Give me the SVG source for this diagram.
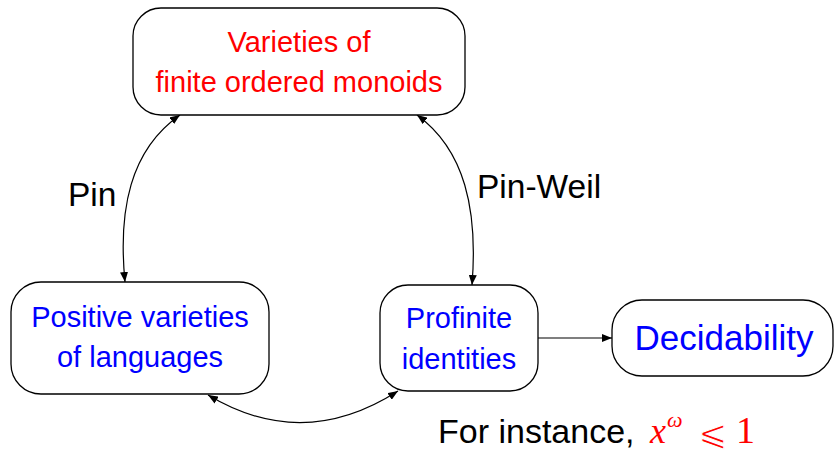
<svg xmlns="http://www.w3.org/2000/svg" width="834" height="450" viewBox="0 0 834 450">
<defs>
<marker id="arr" viewBox="0 0 10 8" refX="10" refY="4" markerWidth="10" markerHeight="8" markerUnits="userSpaceOnUse" orient="auto-start-reverse">
<path d="M0,0 L10,4 L0,8 Z" fill="#000"/>
</marker>
<style>
.box{fill:#fff;stroke:#000;stroke-width:1.3}
.t{font-family:"Liberation Sans",Arial,sans-serif;text-anchor:middle}
.red{fill:#ff0000}
.blue{fill:#0000ff}
.edge{fill:none;stroke:#000;stroke-width:1.2}
.lbl{font-family:"Liberation Sans",Arial,sans-serif;font-size:33.5px;fill:#000}
</style>
</defs>
<rect width="834" height="450" fill="#fff"/>
<g id="connectors">
<path class="edge" d="M180,115 C130,150 118,210 125,282" marker-start="url(#arr)" marker-end="url(#arr)"/>
<path class="edge" d="M417,115 C465,150 478,210 472,285" marker-start="url(#arr)" marker-end="url(#arr)"/>
<path class="edge" d="M208,395 Q303,452 398,391" marker-start="url(#arr)" marker-end="url(#arr)"/>
<path class="edge" d="M538,338 L612,338" marker-end="url(#arr)"/>
<text class="lbl" x="68" y="206">Pin</text>
<text class="lbl" x="477" y="198">Pin-Weil</text>
</g>
<g id="monoids">
<rect class="box" x="133" y="8" width="332" height="107" rx="28"/>
<text class="t red" x="299" y="52" font-size="29">Varieties of</text>
<text class="t red" x="299" y="92" font-size="29">finite ordered monoids</text>
</g>
<g id="languages">
<rect class="box" x="11" y="282" width="258" height="112" rx="30"/>
<text class="t blue" x="140" y="327" font-size="29">Positive varieties</text>
<text class="t blue" x="140" y="367" font-size="29">of languages</text>
</g>
<g id="identities">
<rect class="box" x="380" y="285" width="158" height="106" rx="28"/>
<text class="t blue" x="459" y="328" font-size="29">Profinite</text>
<text class="t blue" x="459" y="369" font-size="29">identities</text>
</g>
<g id="decidability">
<rect class="box" x="612" y="300" width="221" height="76" rx="30"/>
<text class="t blue" x="724" y="350" font-size="35">Decidability</text>
</g>
<g id="example">
<text x="438" y="443" font-family="'Liberation Sans',Arial,sans-serif" font-size="34" fill="#000">For instance,</text>
<text x="650" y="443" font-family="'Liberation Serif','Times New Roman',serif" font-size="36" font-style="italic" fill="#ff0000">x</text>
<text x="667" y="427" font-family="'Liberation Serif','Times New Roman',serif" font-size="22" font-style="italic" fill="#ff0000">ω</text>
<text x="698" y="445" font-family="'DejaVu Serif','DejaVu Sans',serif" font-size="35" fill="#ff0000" stroke="#fff" stroke-width="1">⩽</text>
<text x="736" y="443" font-family="'Liberation Serif','Times New Roman',serif" font-size="38" fill="#ff0000">1</text>
</g>
</svg>
